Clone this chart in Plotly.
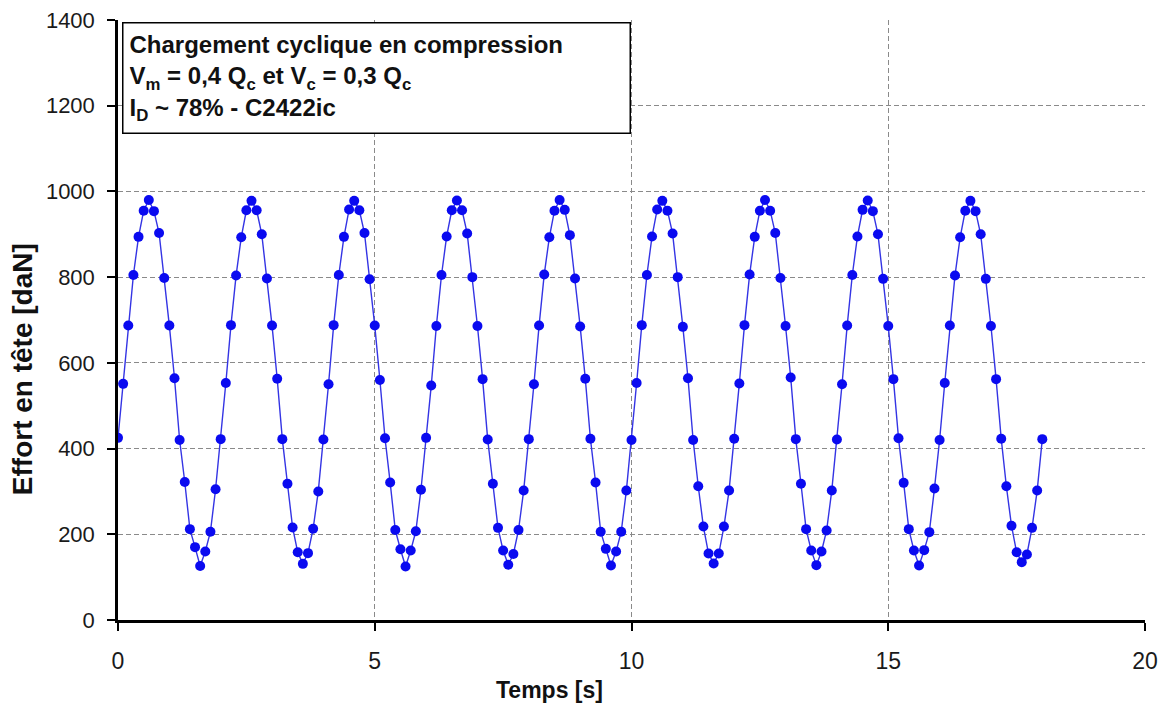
import plotly.graph_objects as go

# temps d'acquisition : un point tous les 0,1 s, de 0 à 18 s
temps = [round(0.1 * i, 1) for i in range(181)]

# effort en tête (daN), lu cycle par cycle sur la courbe
effort = [
    425, 551, 687, 805, 894, 955, 980, 954, 903, 798, 687, 564, 420, 322, 212, 170, 126, 160, 206, 305,
    422, 553, 688, 804, 893, 956, 978, 956, 900, 797, 687, 563, 422, 318, 216, 158, 131, 156, 213, 300,
    421, 550, 688, 805, 894, 958, 978, 956, 903, 795, 687, 560, 424, 321, 210, 165, 125, 162, 207, 304,
    425, 547, 686, 805, 895, 956, 979, 956, 902, 800, 686, 562, 421, 318, 215, 162, 129, 154, 210, 302,
    422, 550, 687, 806, 893, 955, 980, 957, 898, 797, 685, 563, 423, 321, 206, 166, 127, 160, 206, 302,
    420, 553, 688, 805, 895, 958, 978, 955, 902, 800, 684, 564, 420, 312, 218, 155, 132, 155, 218, 302,
    423, 552, 688, 806, 894, 955, 980, 955, 903, 798, 686, 566, 422, 318, 212, 162, 128, 160, 209, 302,
    421, 550, 687, 805, 895, 957, 979, 954, 900, 796, 686, 562, 424, 320, 212, 162, 127, 163, 205, 307,
    420, 553, 687, 804, 893, 955, 978, 954, 900, 796, 686, 562, 423, 312, 220, 158, 135, 153, 215, 302,
    422,
]

x_ticks = [0, 5, 10, 15, 20]
y_ticks = [0, 200, 400, 600, 800, 1000, 1200, 1400]

info_lines = [
    "Chargement cyclique en compression",
    "V<sub>m</sub> = 0,4 Q<sub>c</sub> et V<sub>c</sub> = 0,3 Q<sub>c</sub>",
    "I<sub>D</sub> ~ 78% - C2422ic",
]

FONT = "Liberation Sans, Arial, sans-serif"

fig = go.Figure(go.Scatter(
    x=temps,
    y=effort,
    mode="lines+markers",
    line=dict(color="#3434E4", width=1.4),
    marker=dict(color="#0A0AF0", size=10),
    showlegend=False,
))

axis_common = dict(
    showline=True,
    linecolor="black",
    linewidth=2.5,
    ticks="outside",
    ticklen=8,
    tickwidth=2,
    tickcolor="black",
    showgrid=True,
    gridcolor="#8a8a8a",
    gridwidth=1,
    griddash="5px,3px",
    zeroline=False,
    automargin=False,
    ticklabeloverflow="allow",
)

fig.update_xaxes(range=[0, 20], tickvals=x_ticks, ticklabelstandoff=11,
                 tickfont=dict(family=FONT, size=23, color="#1a1a1a"), **axis_common)
fig.update_yaxes(range=[0, 1400], tickvals=y_ticks, ticklabelstandoff=8,
                 tickfont=dict(family=FONT, size=22, color="#1a1a1a"), **axis_common)

fig.add_annotation(
    text="<br>".join(info_lines),
    xref="paper", yref="paper",
    x=0.004, y=0.997,
    xanchor="left", yanchor="top",
    align="left",
    width=494, height=97,
    borderpad=6,
    bordercolor="black",
    borderwidth=1.5,
    bgcolor="white",
    showarrow=False,
    font=dict(family=FONT, size=24, color="#111111", weight="bold"),
)

# titres des axes
fig.add_annotation(
    text="Temps [s]",
    xref="paper", yref="paper",
    x=0.42, y=-0.117,
    xanchor="center", yanchor="middle",
    showarrow=False,
    font=dict(family=FONT, size=23, color="#111111", weight="bold"),
)
fig.add_annotation(
    text="Effort en tête [daN]",
    xref="paper", yref="paper",
    x=-0.0935, y=0.418,
    xanchor="center", yanchor="middle",
    textangle=-90,
    showarrow=False,
    font=dict(family=FONT, size=28, color="#111111", weight="bold"),
)

# la page ajoute une marge de 8 px autour de la figure
fig.update_layout(
    width=1158,
    height=698,
    margin=dict(l=110, r=21, t=12, b=86),
    plot_bgcolor="white",
    paper_bgcolor="white",
)

fig.write_html("out.html")
